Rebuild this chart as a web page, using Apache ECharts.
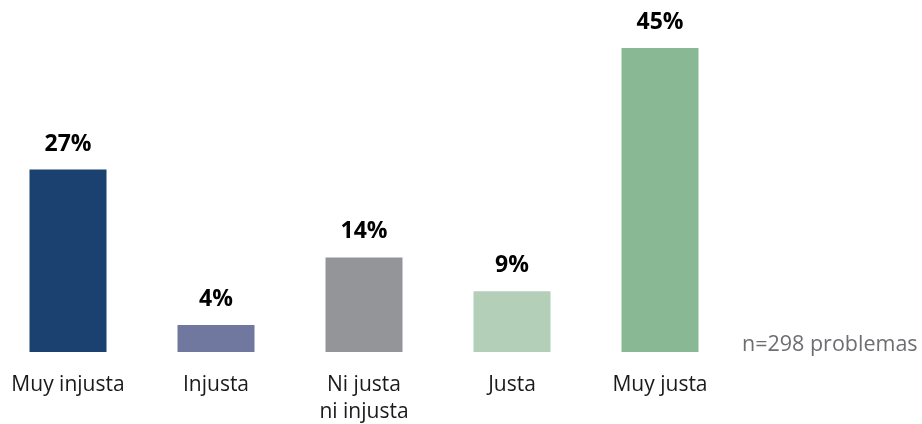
<!DOCTYPE html>
<html>
<head>
<meta charset="utf-8">
<script src="https://cdn.jsdelivr.net/npm/echarts@6/dist/echarts.min.js"></script>
<style>
  html, body { margin: 0; padding: 0; background: #fff; }
  #chart { width: 922px; height: 424px; }
</style>
</head>
<body>
<div id="chart"></div>
<script>
  var categories = ['Muy injusta', 'Injusta', 'Ni justa\nni injusta', 'Justa', 'Muy justa'];
  var values = [27, 4, 14, 9, 45];
  var colors = ['#1b4170', '#7178a0', '#939598', '#b3cfb8', '#88b994'];
  var note = 'n=298 problemas';

  var myChart = echarts.init(document.getElementById('chart'));
  var option = {
    animation: false,
    textStyle: {
      fontFamily: 'Open Sans'
    },
    grid: {
      left: 68,
      right: 262,
      top: 48,
      bottom: 72,
      outerBoundsMode: 'none'
    },
    xAxis: {
      type: 'category',
      data: categories,
      boundaryGap: false,
      axisLine: { show: false },
      axisTick: { show: false },
      axisLabel: {
        color: '#1a1a1a',
        fontSize: 21,
        lineHeight: 27,
        margin: 20,
        interval: 0
      }
    },
    yAxis: {
      type: 'value',
      min: 0,
      max: 45,
      show: false,
      splitLine: { show: false }
    },
    series: [
      {
        type: 'bar',
        data: values.map(function (v, i) {
          return { value: v, itemStyle: { color: colors[i] } };
        }),
        barWidth: 77,
        label: {
          show: true,
          position: 'top',
          distance: 14,
          formatter: '{c}%',
          color: '#000',
          fontSize: 23,
          fontWeight: 'bold'
        }
      }
    ],
    graphic: [
      {
        type: 'text',
        left: 742,
        top: 334,
        style: {
          text: note,
          fill: '#6d6e71',
          fontSize: 21.5,
          fontFamily: 'Open Sans'
        }
      }
    ]
  };
  myChart.setOption(option, true);
</script>
</body>
</html>
